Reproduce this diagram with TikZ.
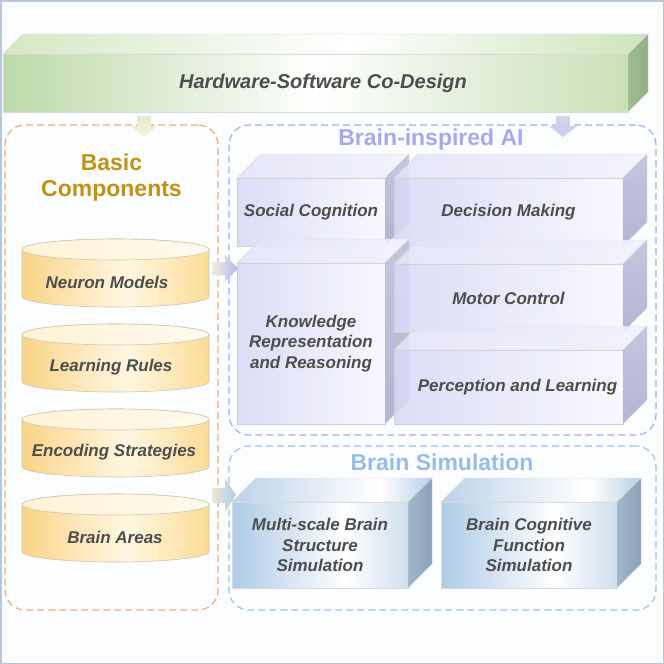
\documentclass[tikz,border=0pt]{standalone}
\usepackage{fontspec}
\setmainfont{Liberation Sans}
\usetikzlibrary{calc}
\definecolor{txt}{HTML}{4D4D4D}
\definecolor{frame}{HTML}{B7C6D8}
\definecolor{bg}{HTML}{FCFDFF}
\definecolor{orng}{HTML}{F5A77A}
\definecolor{lav}{HTML}{A9A9F5}
\definecolor{lblue}{HTML}{9EC3EA}
\definecolor{gold}{HTML}{C49212}
\definecolor{lavtitle}{HTML}{A8A8F0}
\definecolor{bluetitle}{HTML}{96BEE6}
\definecolor{bA}{RGB}{164,196,228}
\definecolor{bB}{RGB}{202,220,238}
\definecolor{bT1}{RGB}{188,210,234}
\definecolor{bT2}{RGB}{182,206,230}
\definecolor{gA}{RGB}{180,213,156}
\definecolor{gB}{RGB}{194,221,174}
\definecolor{gT1}{RGB}{212,232,196}
\definecolor{gT2}{RGB}{205,228,188}
\definecolor{yA}{RGB}{249,212,135}
\definecolor{yM}{RGB}{255,246,226}
\definecolor{yB}{RGB}{251,220,150}
\pgfdeclarehorizontalshading{blufrontsh}{100bp}{color(0bp)=(bA); color(25bp)=(bA); color(57bp)=(white); color(75bp)=(bB); color(100bp)=(bB)}
\pgfdeclarehorizontalshading{blutopsh}{100bp}{color(0bp)=(bT1); color(25bp)=(bT1); color(62bp)=(white); color(75bp)=(bT2); color(100bp)=(bT2)}
\pgfdeclarehorizontalshading{grnfrontsh}{100bp}{color(0bp)=(gA); color(25bp)=(gA); color(50bp)=(white); color(75bp)=(gB); color(100bp)=(gB)}
\pgfdeclarehorizontalshading{grntopsh}{100bp}{color(0bp)=(gT1); color(25bp)=(gT1); color(52bp)=(white); color(75bp)=(gT2); color(100bp)=(gT2)}
\pgfdeclarehorizontalshading{cylsh}{100bp}{color(0bp)=(yA); color(25bp)=(yA); color(53bp)=(yM); color(75bp)=(yB); color(100bp)=(yB)}
\tikzset{
  lbl/.style={font=\fontsize{17}{20.5}\selectfont\bfseries\itshape, text=txt, align=center},
  ttl/.style={font=\fontsize{23}{26}\selectfont\bfseries, align=center},
  face/.style={line width=0.6pt, inner sep=0pt, outer sep=0pt, anchor=north west, fill opacity=0.88, text opacity=1},
  dashbox/.style={line width=1.2pt, dash pattern=on 7pt off 4pt, rounded corners=20pt, inner sep=0pt, outer sep=0pt, anchor=north west},
  grnfront/.style={face, draw=black!15, shading=grnfrontsh, font=\fontsize{20}{24}\selectfont\bfseries\itshape, text=txt},
  grntop/.style={draw=black!15, shading=grntopsh},
  grnside/.style={draw=black!15, left color={rgb,255:red,160;green,188;blue,146}, right color={rgb,255:red,146;green,174;blue,132}},
  lavfront/.style={face, lbl, draw=black!18, left color={rgb,255:red,216;green,216;blue,246}, right color={rgb,255:red,248;green,248;blue,255}},
  lavtop/.style={draw=black!15, fill opacity=0.88, left color={rgb,255:red,226;green,226;blue,248}, right color={rgb,255:red,242;green,242;blue,253}},
  lavside/.style={draw=black!15, fill opacity=0.88, top color={rgb,255:red,190;green,190;blue,220}, bottom color={rgb,255:red,171;green,171;blue,206}},
  blufront/.style={face, lbl, draw=black!15, shading=blufrontsh},
  blutop/.style={draw=black!15, shading=blutopsh},
  bluside/.style={draw=black!15, left color={rgb,255:red,162;green,182;blue,202}, right color={rgb,255:red,138;green,162;blue,186}},
  cylbody/.style={draw={rgb,255:red,207;green,198;blue,176}, line width=0.6pt, shading=cylsh},
  cyltop/.style={draw={rgb,255:red,207;green,198;blue,176}, line width=0.6pt, left color={rgb,255:red,255;green,242;blue,214}, right color={rgb,255:red,255;green,250;blue,238}},
}
\newcommand\cuboid[9]{%
  \node[#6,minimum width=#4pt,minimum height=#5pt] (#1) at (#2,#3) {#9};
  \path[#7] (#1.north west) -- ([shift={(\dd,-\dd)}]#1.north west) -- ([shift={(\dd,-\dd)}]#1.north east) -- (#1.north east) -- cycle;
  \path[#8] (#1.north east) -- ([shift={(\dd,-\dd)}]#1.north east) -- ([shift={(\dd,-\dd)}]#1.south east) -- (#1.south east) -- cycle;
}
\newcommand\cyl[4]{%
  \path[cylbody] (22,#2+10.5) -- (22,#2+57.5) arc[start angle=180,end angle=360,x radius=93.5pt,y radius=10.5pt] -- (209,#2+10.5) arc[start angle=0,end angle=180,x radius=93.5pt,y radius=10.5pt] -- cycle;
  \path[cyltop] (115.5,#2+10.5) ellipse[x radius=93.5pt,y radius=10.5pt];
  \node[lbl] (#1) at (#3,#2+43) {#4};
}
\begin{document}
\begin{tikzpicture}[x=1pt,y=-1pt]
\useasboundingbox (0,0) rectangle (664,664);
\draw[draw=frame, line width=1.5pt, fill=bg] (0.75,0.75) rectangle (663.25,663.25);

% dashed group boxes
\node[dashbox, draw=orng, minimum width=213pt, minimum height=485pt] (bc) at (5,125) {};
\node[dashbox, draw=lav, minimum width=427pt, minimum height=310pt] (ai) at (229,125) {};
\node[dashbox, draw=lblue, minimum width=427pt, minimum height=164pt] (bs) at (229,446) {};

% hardware-software bar
\def\dd{20}
\cuboid{hw}{3}{54}{625}{58}{grnfront}{grntop}{grnside}{\hspace*{15pt}Hardware-Software Co-Design}

% down arrows
\path[top color={rgb,255:red,228;green,236;blue,206}, bottom color={rgb,255:red,246;green,241;blue,214}] (137,116) -- (151,116) -- (151,126) -- (157,126) -- (144,137) -- (131,126) -- (137,126) -- cycle;
\path[top color={rgb,255:red,206;green,216;blue,226}, bottom color={rgb,255:red,200;green,202;blue,242}] (556,116) -- (570,116) -- (570,126) -- (577,126) -- (563,137) -- (549,126) -- (556,126) -- cycle;

% titles
\node[ttl, text=gold] (bct) at (111.5,178) {Basic\\Components};
\node[ttl, text=lavtitle] (ait) at (431,140) {Brain-inspired AI};
\node[ttl, text=bluetitle] (bst) at (442,462) {Brain Simulation};

% cylinders
\cyl{nm}{239}{107}{Neuron Models}
\cyl{lr}{324}{111}{Learning Rules}
\cyl{es}{409}{114}{Encoding Strategies}
\cyl{ba}{494}{115}{Brain Areas}

% brain-inspired AI boxes
\def\dd{24}
\cuboid{sc}{237}{178}{148}{68}{lavfront}{lavtop}{lavside}{Social Cognition}
\cuboid{dm}{394}{178}{229}{68}{lavfront}{lavtop}{lavside}{Decision Making}
\cuboid{kr}{237}{263}{148}{161}{lavfront}{lavtop}{lavside}{Knowledge\\Representation\\and Reasoning}
\cuboid{mc}{394}{264}{229}{68}{lavfront}{lavtop}{lavside}{Motor Control}
\cuboid{pl}{394}{350}{229}{74}{lavfront}{lavtop}{lavside}{\hspace*{18pt}Perception and Learning}

% brain simulation boxes
\cuboid{ms}{232}{502}{176}{86}{blufront}{blutop}{bluside}{Multi-scale Brain\\Structure\\Simulation}
\cuboid{cf}{441}{502}{176}{86}{blufront}{blutop}{bluside}{Brain Cognitive\\Function\\Simulation}

% right arrows
\path[left color={rgb,255:red,242;green,235;blue,221}, right color={rgb,255:red,184;green,184;blue,242}] (212,262) -- (225,262) -- (225,255) -- (238,268.5) -- (225,282) -- (225,275) -- (212,275) -- cycle;
\path[left color={rgb,255:red,238;green,232;blue,212}, right color={rgb,255:red,176;green,204;blue,230}] (212,488) -- (225,488) -- (225,478) -- (236,495) -- (225,512) -- (225,503) -- (212,503) -- cycle;
\end{tikzpicture}
\end{document}
